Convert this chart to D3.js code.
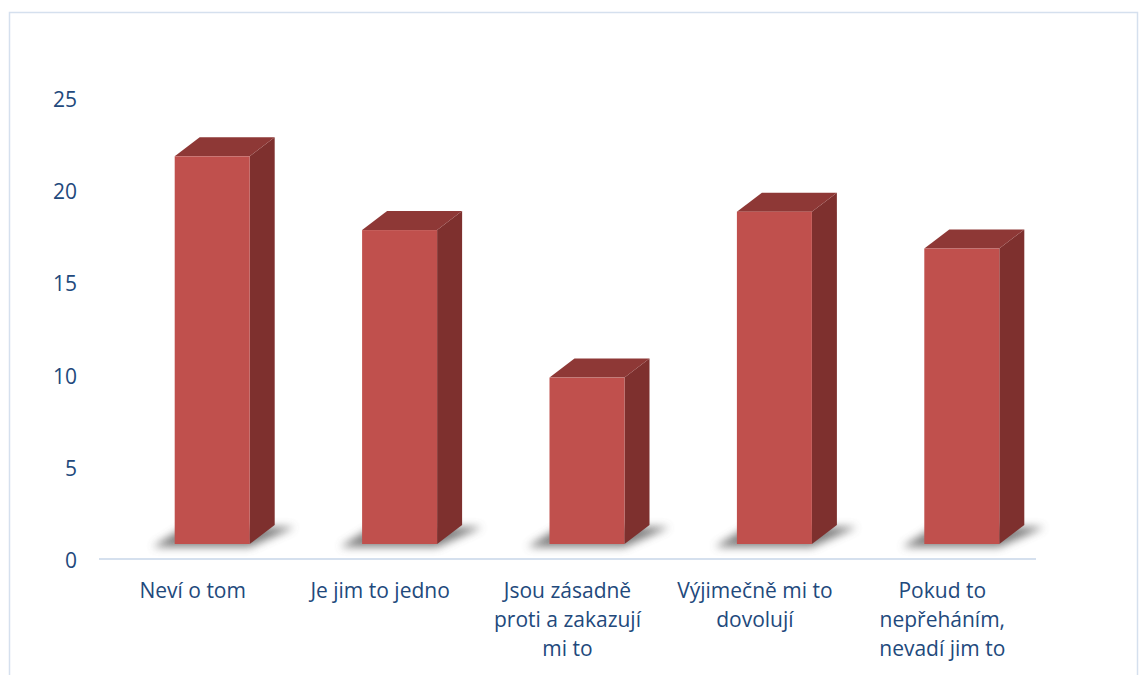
<!DOCTYPE html>
<html lang="cs">
<head>
<meta charset="UTF-8">
<title>3D sloupcový graf</title>
<script src="https://d3js.org/d3.v7.min.js"></script>
<style>
  body { margin: 0; background: #fff; }
  text { font-family: "Open Sans", "Noto Sans", sans-serif; fill: #22497C; }
</style>
</head>
<body>
<svg width="1148" height="675"></svg>
<script>
// data
const categories = ["Neví o tom", "Je jim to jedno", "Jsou zásadně proti a zakazují mi to", "Výjimečně mi to dovolují", "Pokud to nepřeháním, nevadí jim to"];
const labelLines = [
  ["Neví o tom"],
  ["Je jim to jedno"],
  ["Jsou zásadně", "proti a zakazují", "mi to"],
  ["Výjimečně mi to", "dovolují"],
  ["Pokud to", "nepřeháním,", "nevadí jim to"]
];
const values = [22, 18, 10, 19, 17];
const yTicks = [0, 5, 10, 15, 20, 25];

const svg = d3.select("svg");

// outer frame
svg.append("rect")
  .attr("x", 9.5).attr("y", 12.5)
  .attr("width", 1128).attr("height", 700)
  .attr("fill", "none")
  .attr("stroke", "#D5E0EE")
  .attr("stroke-width", 1.5);

const x = d3.scaleBand().domain(categories).range([99, 1036]);
const y = d3.scaleLinear().domain([0, 25]).range([562, 101]);

const defs = svg.append("defs");
defs.append("filter").attr("id", "blur")
  .attr("x", "-30%").attr("y", "-80%").attr("width", "160%").attr("height", "260%")
  .append("feGaussianBlur").attr("stdDeviation", 4);

const barW = 75, depthX = 25, depthY = 19, base = 544;

// y tick labels
svg.append("g").selectAll("text")
  .data(yTicks)
  .join("text")
  .attr("x", 77)
  .attr("y", d => y(d) - 2)
  .attr("text-anchor", "end")
  .attr("dominant-baseline", "central")
  .style("font-size", "21px")
  .text(d => d);

// axis line
svg.append("line")
  .attr("x1", x.range()[0]).attr("x2", x.range()[1])
  .attr("y1", 559).attr("y2", 559)
  .attr("stroke", "#D5E0EE")
  .attr("stroke-width", 2);

const bars = svg.append("g").selectAll("g")
  .data(values.map((v, i) => ({ v, c: categories[i] })))
  .join("g");

// soft shadows under bars
bars.append("path")
  .attr("filter", "url(#blur)")
  .attr("fill", "#555")
  .attr("opacity", 0.75)
  .attr("d", d => {
    const x0 = x(d.c) + x.bandwidth() / 2 - 18;
    return `M${x0 - 22},${base + 3} L${x0 + barW},${base + 3} L${x0 + barW + depthX + 20},${base - depthY + 2} L${x0 + 10},${base - depthY + 2} Z`;
  });

// side face
bars.append("path")
  .attr("fill", "#7E302E")
  .attr("d", d => {
    const x0 = x(d.c) + x.bandwidth() / 2 - 18, x1 = x0 + barW, t = y(d.v);
    return `M${x1},${t} L${x1 + depthX},${t - depthY} L${x1 + depthX},${base - depthY} L${x1},${base} Z`;
  });

// top face
bars.append("path")
  .attr("fill", "#8E3836")
  .attr("d", d => {
    const x0 = x(d.c) + x.bandwidth() / 2 - 18, x1 = x0 + barW, t = y(d.v);
    return `M${x0},${t} L${x0 + depthX},${t - depthY} L${x1 + depthX},${t - depthY} L${x1},${t} Z`;
  });

// front face
bars.append("rect")
  .attr("fill", "#C0504D")
  .attr("x", d => x(d.c) + x.bandwidth() / 2 - 18)
  .attr("y", d => y(d.v))
  .attr("width", barW)
  .attr("height", d => base - y(d.v));

// category labels
const lab = svg.append("g").selectAll("text")
  .data(labelLines)
  .join("text")
  .attr("text-anchor", "middle")
  .style("font-size", "21px");
lab.selectAll("tspan")
  .data((d, i) => d.map((l, j) => ({ l, j, i })))
  .join("tspan")
  .attr("x", d => x(categories[d.i]) + x.bandwidth() / 2)
  .attr("y", d => 590 + d.j * 29)
  .attr("dominant-baseline", "central")
  .text(d => d.l);
</script>
</body>
</html>
